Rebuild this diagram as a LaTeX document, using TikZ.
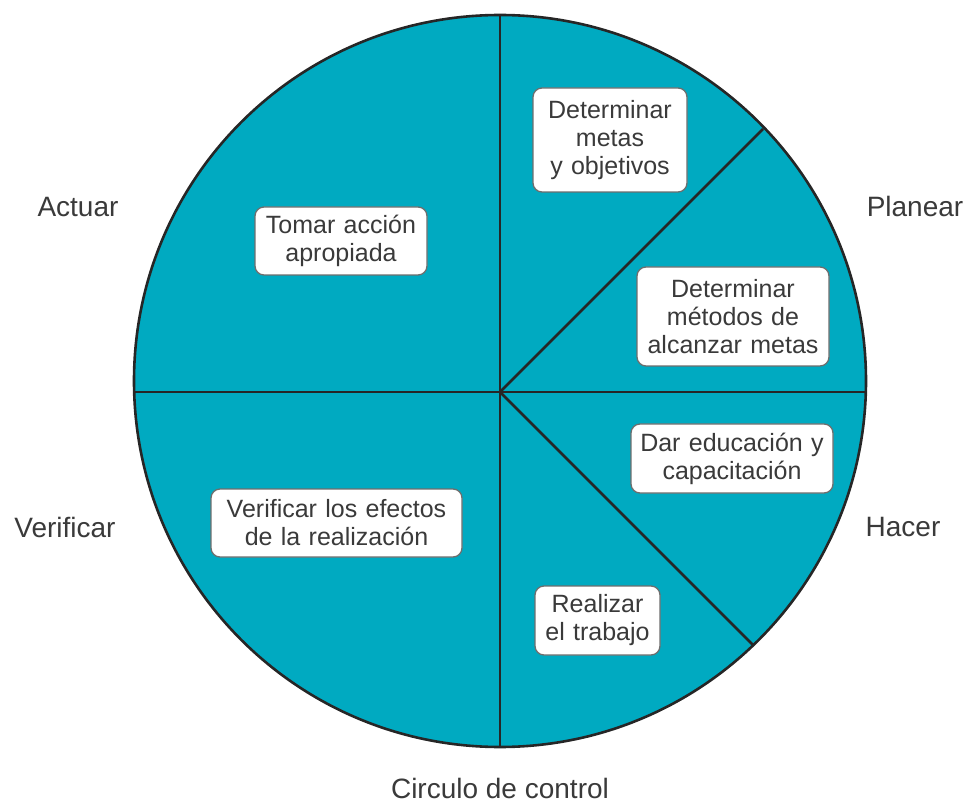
\documentclass[tikz,border=0pt]{standalone}
\usepackage{fontspec}
\setmainfont{Liberation Sans}
\definecolor{pieblue}{RGB}{0,170,193}
\definecolor{inkgray}{RGB}{58,58,58}
\definecolor{boxgray}{RGB}{110,110,110}
\tikzset{
  paso/.style={draw=boxgray, line width=1.3pt, fill=white, rounded corners=9pt,
    align=center, inner xsep=4pt, text=inkgray, font=\fontsize{25}{28}\selectfont},
  fase/.style={text=inkgray, font=\fontsize{28}{32}\selectfont},
  radio/.style={line width=2.6pt, draw=black!85}
}
\begin{document}
\begin{tikzpicture}[x=1pt, y=-1pt]
    \useasboundingbox (0,0) rectangle (970,802);

    % Draw the disc and its spokes
    \draw[radio, fill=pieblue] (500,381) circle[radius=366pt];
    \coordinate (hub) at (500,392);
    \coordinate (top) at (500,15);
    \coordinate (bottom) at (500,747);
    \coordinate (left) at (134,392);
    \coordinate (right) at (866,392);
    \coordinate (upright) at (763,129);
    \coordinate (downright) at (753,645);
    \draw[radio] (top) -- (bottom);
    \draw[radio] (left) -- (hub) -- (right);
    \draw[radio] (upright) -- (hub) -- (downright);

    % Place the steps inside the sectors
    \node[paso, text width=146pt, minimum height=104pt] (metas) at (610,140) {Determinar\\metas\\y objetivos};
    \node[paso, text width=184pt, minimum height=99pt] (metodos) at (733,316.5) {Determinar\\métodos de\\alcanzar metas};
    \node[paso, text width=164pt, minimum height=68pt] (accion) at (341,241) {Tomar acción\\apropiada};
    \node[paso, text width=194pt, minimum height=69pt] (educacion) at (732,458.5) {Dar educación y\\capacitación};
    \node[paso, text width=243pt, minimum height=68pt] (verificar) at (336.5,523) {Verificar los efectos\\de la realización};
    \node[paso, text width=117pt, minimum height=69pt] (trabajo) at (597.5,620.5) {Realizar\\el trabajo};

    % Place the phase names around the disc
    \node[fase] (actuar) at (78,207) {Actuar};
    \node[fase] (planear) at (915,206) {Planear};
    \node[fase] (verif) at (65,527) {Verificar};
    \node[fase] (hacer) at (903,527) {Hacer};
    \node[fase] (titulo) at (500,788) {Circulo de control};
\end{tikzpicture}
\end{document}
